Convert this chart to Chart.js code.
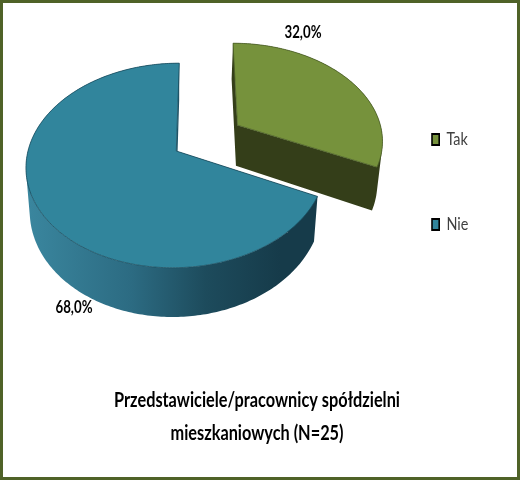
<!DOCTYPE html>
<html>
<head>
<meta charset="utf-8">
<style>
  body { margin: 0; background: #fff; }
  #wrap { position: relative; width: 520px; height: 480px; overflow: hidden; }
  #frame { position: absolute; inset: 0; box-sizing: border-box; border: 3px solid #4f6228; pointer-events: none; }
</style>
<script src="https://cdn.jsdelivr.net/npm/chart.js@4"></script>
</head>
<body>
<div id="wrap">
  <canvas id="pie" width="520" height="480"></canvas>
  <div id="frame"></div>
</div>
<script>
const categories = ['Tak', 'Nie'];
const shares = [32, 68];
const titleLines = ['Przedstawiciele/pracownicy spółdzielni', 'mieszkaniowych (N=25)'];

const fontName = 'Lato, sans-serif';
const topColors = ['#76923c', '#31859c'];

// how the flat pie is laid onto the page (perspective of the old 3D chart)
const FLATTEN = 0.676;
const PERSPECTIVE = -0.1415;
const SHEAR = 0.034;
const DEPTH = 0.285;
const NARROW_LOW = 0.975;
const LIFT = 29;
const EXPLODE = [0.5, 0];
const LEGEND_PAD = 67;
const LEGEND_BOX_X = 432;
const LEGEND_DOWN = 2;
const LABEL_SPOTS = [[303, 33], [74, 308]];
const LABEL_WIDTH = 37;
// no condensed font installed, so text is squeezed sideways
const TITLE_SQUEEZE = 0.815;
const TITLE_PIVOT = 343;
const LEGEND_SQUEEZE = 0.8;

function project(el, X, Y, low) {
  const r = el.outerRadius;
  const d = 1 + PERSPECTIVE * Y;
  let y = r * FLATTEN * Y / d;
  let x = r * X / d - SHEAR * y;
  if (low) {
    x *= NARROW_LOW;
    y += r * DEPTH / d;
  }
  return [el.x + x, el.y - LIFT + y];
}

function outline(el, i, low) {
  const mid = (el.startAngle + el.endAngle) / 2;
  const ox = Math.cos(mid) * EXPLODE[i];
  const oy = Math.sin(mid) * EXPLODE[i];
  const pts = [project(el, ox, oy, low)];
  const steps = Math.ceil((el.endAngle - el.startAngle) * 60);
  for (let s = 0; s <= steps; s++) {
    const a = el.startAngle + (el.endAngle - el.startAngle) * s / steps;
    pts.push(project(el, ox + Math.cos(a), oy + Math.sin(a), low));
  }
  return pts;
}

function addPts(ctx, pts) {
  pts.forEach((p, n) => n ? ctx.lineTo(p[0], p[1]) : ctx.moveTo(p[0], p[1]));
  ctx.closePath();
}

function wallStyle(ctx, el, i) {
  if (i === 0) return '#343e19';
  const g = ctx.createLinearGradient(el.x - el.outerRadius, 0, el.x + el.outerRadius, 0);
  g.addColorStop(0, '#3a869e');
  g.addColorStop(0.35, '#2c6b82');
  g.addColorStop(0.6, '#1d4b5c');
  g.addColorStop(0.85, '#163b4a');
  g.addColorStop(1, '#163b4a');
  return g;
}

function squeeze(box, ctx, pivot, amount) {
  const draw = box.draw.bind(box);
  box.draw = function() {
    ctx.save();
    ctx.translate(pivot, 0);
    ctx.scale(amount, 1);
    ctx.translate(-pivot, 0);
    draw();
    ctx.restore();
  };
}

const pie3d = {
  id: 'pie3d',
  afterLayout(chart) {
    const lg = chart.legend;
    const w = lg.right - lg.left;
    lg.left = LEGEND_BOX_X - LEGEND_PAD;
    lg.right = lg.left + w;
    lg.top += LEGEND_DOWN;
    lg.bottom += LEGEND_DOWN;
    if (!chart.$squeezed) {
      squeeze(chart.titleBlock, chart.ctx, TITLE_PIVOT, TITLE_SQUEEZE);
      squeeze(lg, chart.ctx, LEGEND_BOX_X, LEGEND_SQUEEZE);
      chart.$squeezed = true;
    }
  },
  beforeDatasetsDraw(chart) {
    const ctx = chart.ctx;
    const arcs = chart.getDatasetMeta(0).data;
    ctx.save();
    arcs.forEach((el, i) => {
      const upper = outline(el, i, false);
      const lower = outline(el, i, true);
      // sides go in one path so the quads leave no seams
      ctx.beginPath();
      upper.forEach((p, n) => {
        const m = (n + 1) % upper.length;
        const a = [p, upper[m], lower[m], lower[n]];
        const turn = (a[1][0] - a[0][0]) * (a[2][1] - a[0][1]) - (a[1][1] - a[0][1]) * (a[2][0] - a[0][0]);
        addPts(ctx, turn < 0 ? a.reverse() : a);
      });
      ctx.fillStyle = wallStyle(ctx, el, i);
      ctx.fill();
      ctx.beginPath();
      addPts(ctx, upper);
      ctx.fillStyle = topColors[i];
      ctx.fill();
      ctx.strokeStyle = i === 0 ? '#4b5f27' : '#1b4c5e';
      ctx.lineWidth = 0.8;
      ctx.stroke();
    });
    ctx.restore();
    return false;
  },
  afterDraw(chart) {
    const ctx = chart.ctx;
    ctx.save();
    ctx.font = 'bold 16.5px ' + fontName;
    ctx.fillStyle = '#000';
    ctx.textAlign = 'center';
    ctx.textBaseline = 'middle';
    shares.forEach((v, i) => {
      ctx.fillText(v.toFixed(1).replace('.', ',') + '%', LABEL_SPOTS[i][0], LABEL_SPOTS[i][1], LABEL_WIDTH);
    });
    ctx.restore();
  }
};

new Chart(document.getElementById('pie'), {
  type: 'pie',
  data: {
    labels: categories,
    datasets: [{
      data: shares,
      backgroundColor: topColors,
      borderColor: '#000',
      borderWidth: 2
    }]
  },
  options: {
    responsive: false,
    animation: false,
    layout: { padding: { left: 27, right: 72, top: 30, bottom: 0 } },
    plugins: {
      legend: {
        position: 'right',
        fullSize: false,
        labels: {
          boxWidth: 9,
          boxHeight: 11,
          padding: LEGEND_PAD,
          color: '#404040',
          font: { family: fontName, size: 18 }
        }
      },
      title: {
        display: true,
        position: 'bottom',
        text: titleLines,
        color: '#000',
        font: { family: fontName, size: 20, weight: 'bold', lineHeight: 1.65 },
        padding: { top: 54, bottom: 30 }
      },
      tooltip: { enabled: false }
    }
  },
  plugins: [pie3d]
});
</script>
</body>
</html>
